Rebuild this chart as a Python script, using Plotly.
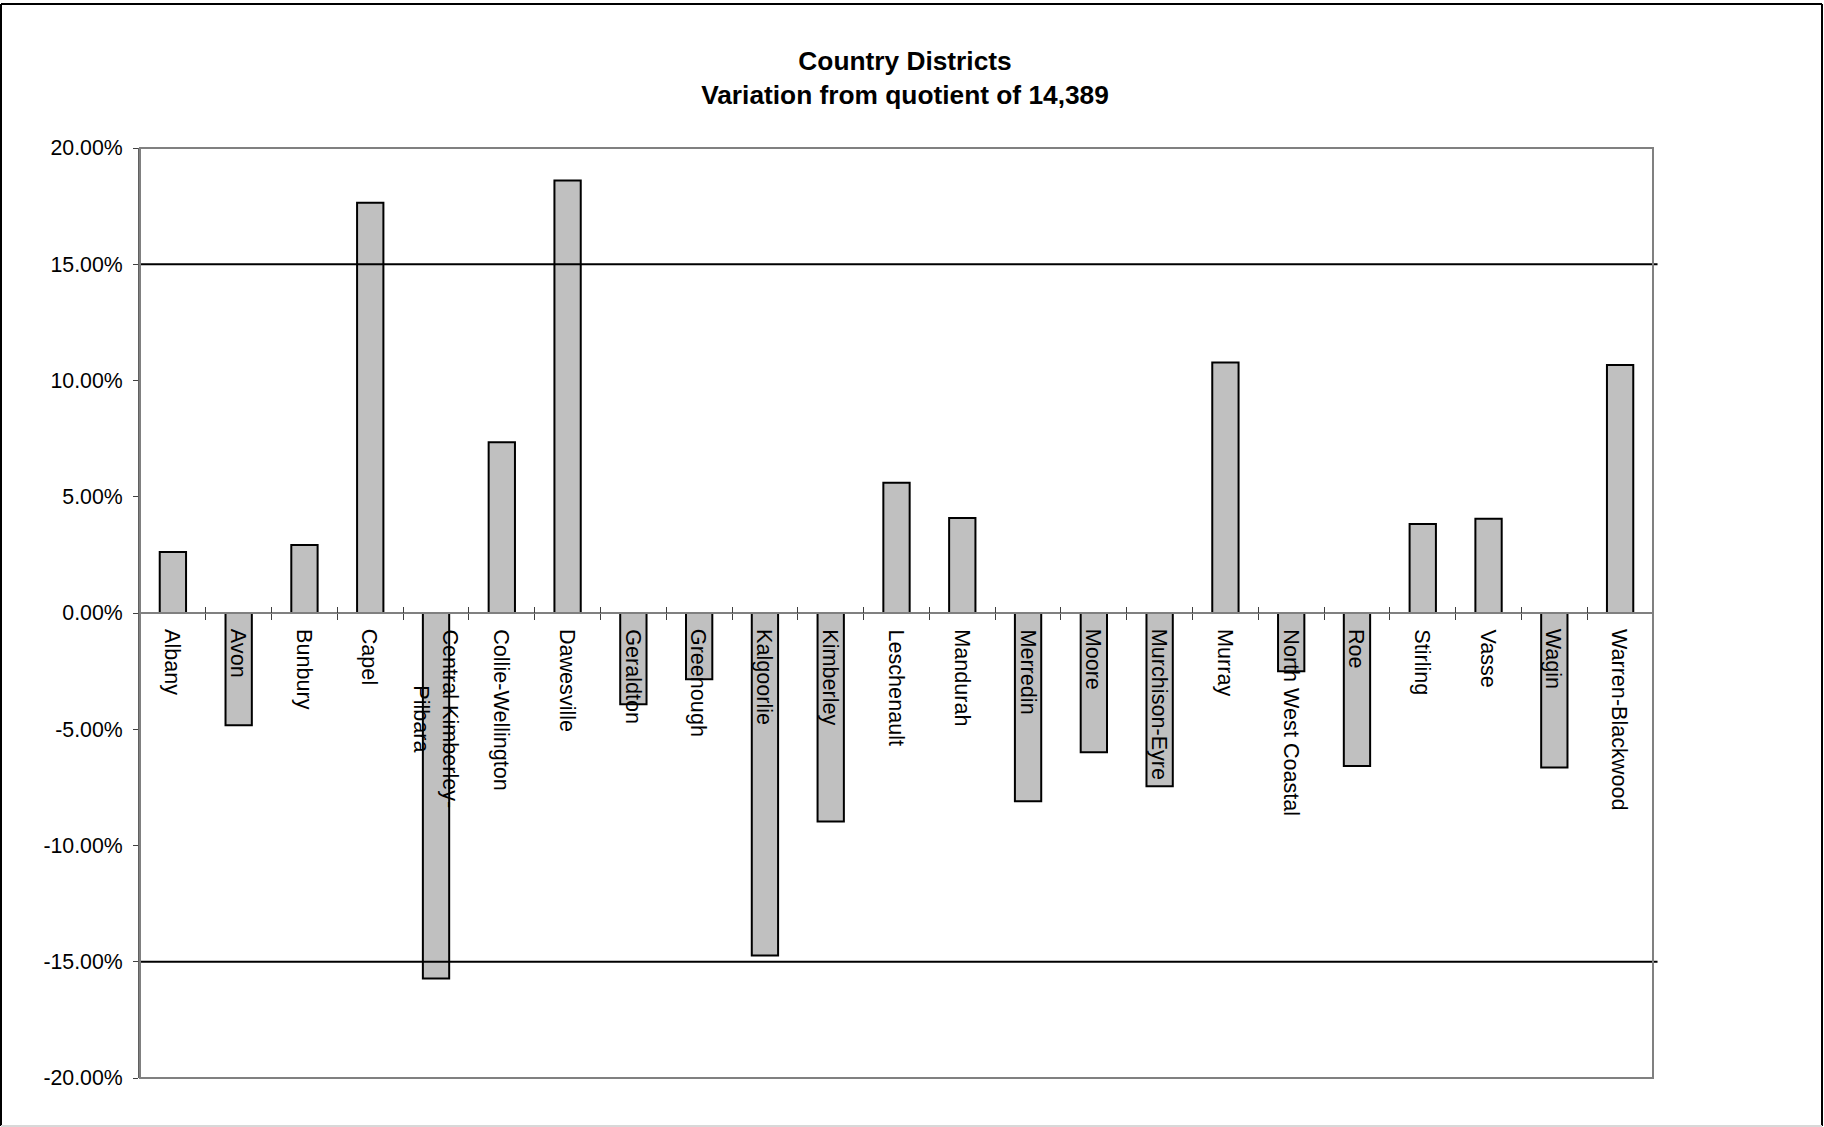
import plotly.graph_objects as go

# ---------------- data ----------------
districts = [
    "Albany", "Avon", "Bunbury", "Capel", "Central Kimberley-Pilbara",
    "Collie-Wellington", "Dawesville", "Geraldton", "Greenough", "Kalgoorlie",
    "Kimberley", "Leschenault", "Mandurah", "Merredin", "Moore",
    "Murchison-Eyre", "Murray", "North West Coastal", "Roe", "Stirling",
    "Vasse", "Wagin", "Warren-Blackwood",
]
district_labels = [
    "Albany", "Avon", "Bunbury", "Capel", "Central Kimberley-<br>Pilbara",
    "Collie-Wellington", "Dawesville", "Geraldton", "Greenough", "Kalgoorlie",
    "Kimberley", "Leschenault", "Mandurah", "Merredin", "Moore",
    "Murchison-Eyre", "Murray", "North West Coastal", "Roe", "Stirling",
    "Vasse", "Wagin", "Warren-Blackwood",
]
variation_pct = [
    2.62, -4.83, 2.92, 17.64, -15.72,
    7.34, 18.60, -3.92, -2.85, -14.73,
    -8.97, 5.60, 4.09, -8.10, -5.99,
    -7.45, 10.77, -2.50, -6.58, 3.83,
    4.05, -6.65, 10.67,
]
tolerance_pct = [15, -15]
y_tick_values = [20, 15, 10, 5, 0, -5, -10, -15, -20]
y_tick_labels = ["20.00%", "15.00%", "10.00%", "5.00%", "0.00%",
                 "-5.00%", "-10.00%", "-15.00%", "-20.00%"]
y_range = [-20, 20]
title_lines = ["Country Districts", "Variation from quotient of 14,389"]

# ---------------- layout constants ----------------
W, H = 1824, 1127
ML, MR, MT, MB = 140, 171, 148, 49
FONT = "Liberation Sans, Arial, sans-serif"
PW, PH = W - ML - MR, H - MT - MB

fig = go.Figure()

fig.add_trace(go.Bar(
    x=districts, y=variation_pct,
    marker=dict(color="#C0C0C0", line=dict(color="black", width=2)),
    hoverinfo="x+y", showlegend=False,
))
# helper trace so the overlay axis (upward ticks) knows the categories
fig.add_trace(go.Scatter(
    x=districts, y=variation_pct, xaxis="x2", mode="markers",
    marker=dict(opacity=0), hoverinfo="skip", showlegend=False,
))

zero_pos = (0 - y_range[0]) / (y_range[1] - y_range[0])

fig.update_layout(
    width=W, height=H,
    margin=dict(l=ML, r=MR, t=MT, b=MB),
    paper_bgcolor="white", plot_bgcolor="white",
    font=dict(family=FONT, color="black", size=20),
    bargap=0.6,
    title=dict(
        text="<br>".join(f"<b>{t}</b>" for t in title_lines),
        x=905 / W, xref="container", xanchor="center",
        y=1 - 70 / H, yref="container", yanchor="top",
        font=dict(family=FONT, size=26.3, color="black"),
    ),
    xaxis=dict(
        type="category", categoryorder="array", categoryarray=districts,
        range=[-0.5, len(districts) - 0.5],
        anchor="free", position=zero_pos,
        showline=True, linecolor="#808080", linewidth=2,
        ticks="outside", ticklen=6, tickcolor="#404040", tickwidth=1,
        tickson="boundaries", showticklabels=False, showgrid=False,
        zeroline=False,
    ),
    xaxis2=dict(
        type="category", categoryorder="array", categoryarray=districts,
        range=[-0.5, len(districts) - 0.5],
        overlaying="x", anchor="free", position=zero_pos,
        showline=False, ticks="inside", ticklen=6, tickcolor="#404040",
        tickwidth=1, tickson="boundaries", showticklabels=False,
        showgrid=False, zeroline=False,
    ),
    yaxis=dict(
        range=y_range, tickvals=y_tick_values, ticktext=y_tick_labels,
        ticks="outside", ticklen=5, tickcolor="#404040", tickwidth=1,
        showline=True, linecolor="#606060", linewidth=2,
        showgrid=False, zeroline=False,
        tickfont=dict(family=FONT, size=21.3, color="black"),
        ticklabelstandoff=6,
    ),
)

# category labels, rotated, hanging just below the zero line
for name, lab in zip(districts, district_labels):
    fig.add_annotation(
        x=name, y=0, xref="x", yref="y", text=lab, showarrow=False,
        textangle=90, xanchor="center", yanchor="top", yshift=-14,
        align="center", font=dict(family=FONT, size=21.6, color="black"),
    )

# tolerance lines at +/- 15%
for v in tolerance_pct:
    fig.add_shape(type="line", xref="x domain", yref="y",
                  x0=0, x1=1.003, y0=v, y1=v,
                  line=dict(color="black", width=2), layer="above")

# plot-area frame
fig.add_shape(type="rect", xref="x domain", yref="y domain",
              x0=0, x1=1, y0=0, y1=1,
              line=dict(color="#808080", width=2), layer="above")

# outer chart border (figure edge)
def px_x(p):
    return (p - ML) / PW

def px_y(p):
    return (H - MB - p) / PH

fx0, fx1 = px_x(1), px_x(1822)
fy0, fy1 = px_y(1126), px_y(4)
for (x0, y0, x1, y1, c) in [
    (fx0, fy1, fx1, fy1, "black"),
    (fx0, fy0, fx0, fy1, "black"),
    (fx1, fy0, fx1, fy1, "black"),
    (fx0, fy0, fx1, fy0, "#d8d8d8"),
]:
    fig.add_shape(type="line", xref="paper", yref="paper",
                  x0=x0, y0=y0, x1=x1, y1=y1,
                  line=dict(color=c, width=2), layer="above")

fig.write_html(
    "out.html",
    config={"displayModeBar": False},
    post_script="document.body.style.margin='0';document.body.style.overflow='hidden';",
)
